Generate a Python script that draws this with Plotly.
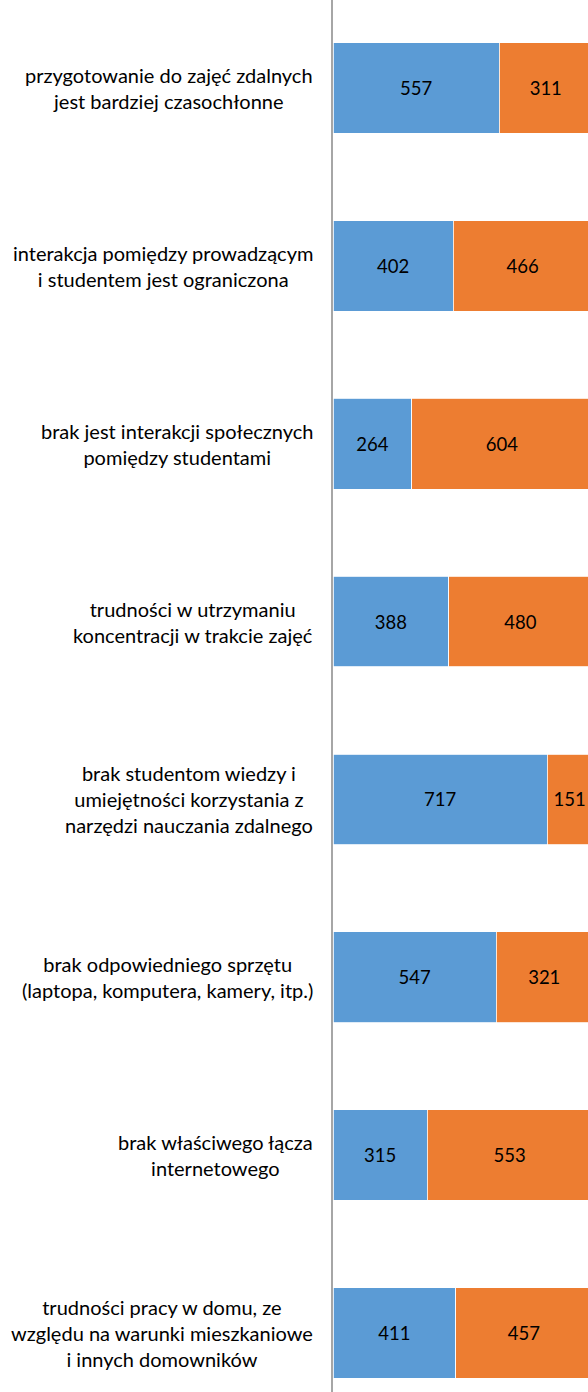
import plotly.graph_objects as go

categories = [
    "przygotowanie do zajęć zdalnych<br>jest bardziej czasochłonne",
    "interakcja pomiędzy prowadzącym<br>i studentem jest ograniczona",
    "brak jest interakcji społecznych<br>pomiędzy studentami",
    "trudności w utrzymaniu<br>koncentracji w trakcie zajęć",
    "brak studentom wiedzy i<br>umiejętności korzystania z<br>narzędzi nauczania zdalnego",
    "brak odpowiedniego sprzętu<br>(laptopa, komputera, kamery, itp.)",
    "brak właściwego łącza<br>internetowego",
    "trudności pracy w domu, ze<br>względu na warunki mieszkaniowe<br>i innych domowników",
]
series_blue = [557, 402, 264, 388, 717, 547, 315, 411]
series_orange = [311, 466, 604, 480, 151, 321, 553, 457]

FONT = "Lato"
BLUE = "#5B9BD5"
ORANGE = "#ED7D31"

fig = go.Figure()
for vals, col in [(series_blue, BLUE), (series_orange, ORANGE)]:
    fig.add_trace(go.Bar(
        y=categories, x=vals, orientation="h",
        marker=dict(color=col, line=dict(color="white", width=0.8)),
        text=[str(v) for v in vals], textposition="inside",
        insidetextanchor="middle",
        textfont=dict(family=FONT, size=18.5, color="black"),
        showlegend=False,
    ))

for c in categories:
    fig.add_annotation(
        x=0, xref="paper", y=c, yref="y", text=c, showarrow=False,
        xanchor="right", yanchor="middle", align="center", xshift=-18,
        font=dict(family=FONT, size=20, color="black"),
    )

fig.update_layout(
    barmode="stack", bargap=0.49,
    width=588, height=1392,
    margin=dict(l=333, r=0, t=0, b=0),
    paper_bgcolor="white", plot_bgcolor="white",
    xaxis=dict(range=[0, 854], showgrid=False, zeroline=False,
               showticklabels=False, visible=False),
    yaxis=dict(categoryorder="array", categoryarray=categories,
               range=[7.332, -0.495], showticklabels=False, showgrid=False,
               showline=True, linecolor="#A6A6A6", linewidth=1.5, ticks=""),
    uniformtext=dict(mode=False),
)
fig.write_html(
    "out.html",
    config={"displayModeBar": False},
    post_script="document.body.style.margin='0';document.body.style.overflow='hidden';",
)
